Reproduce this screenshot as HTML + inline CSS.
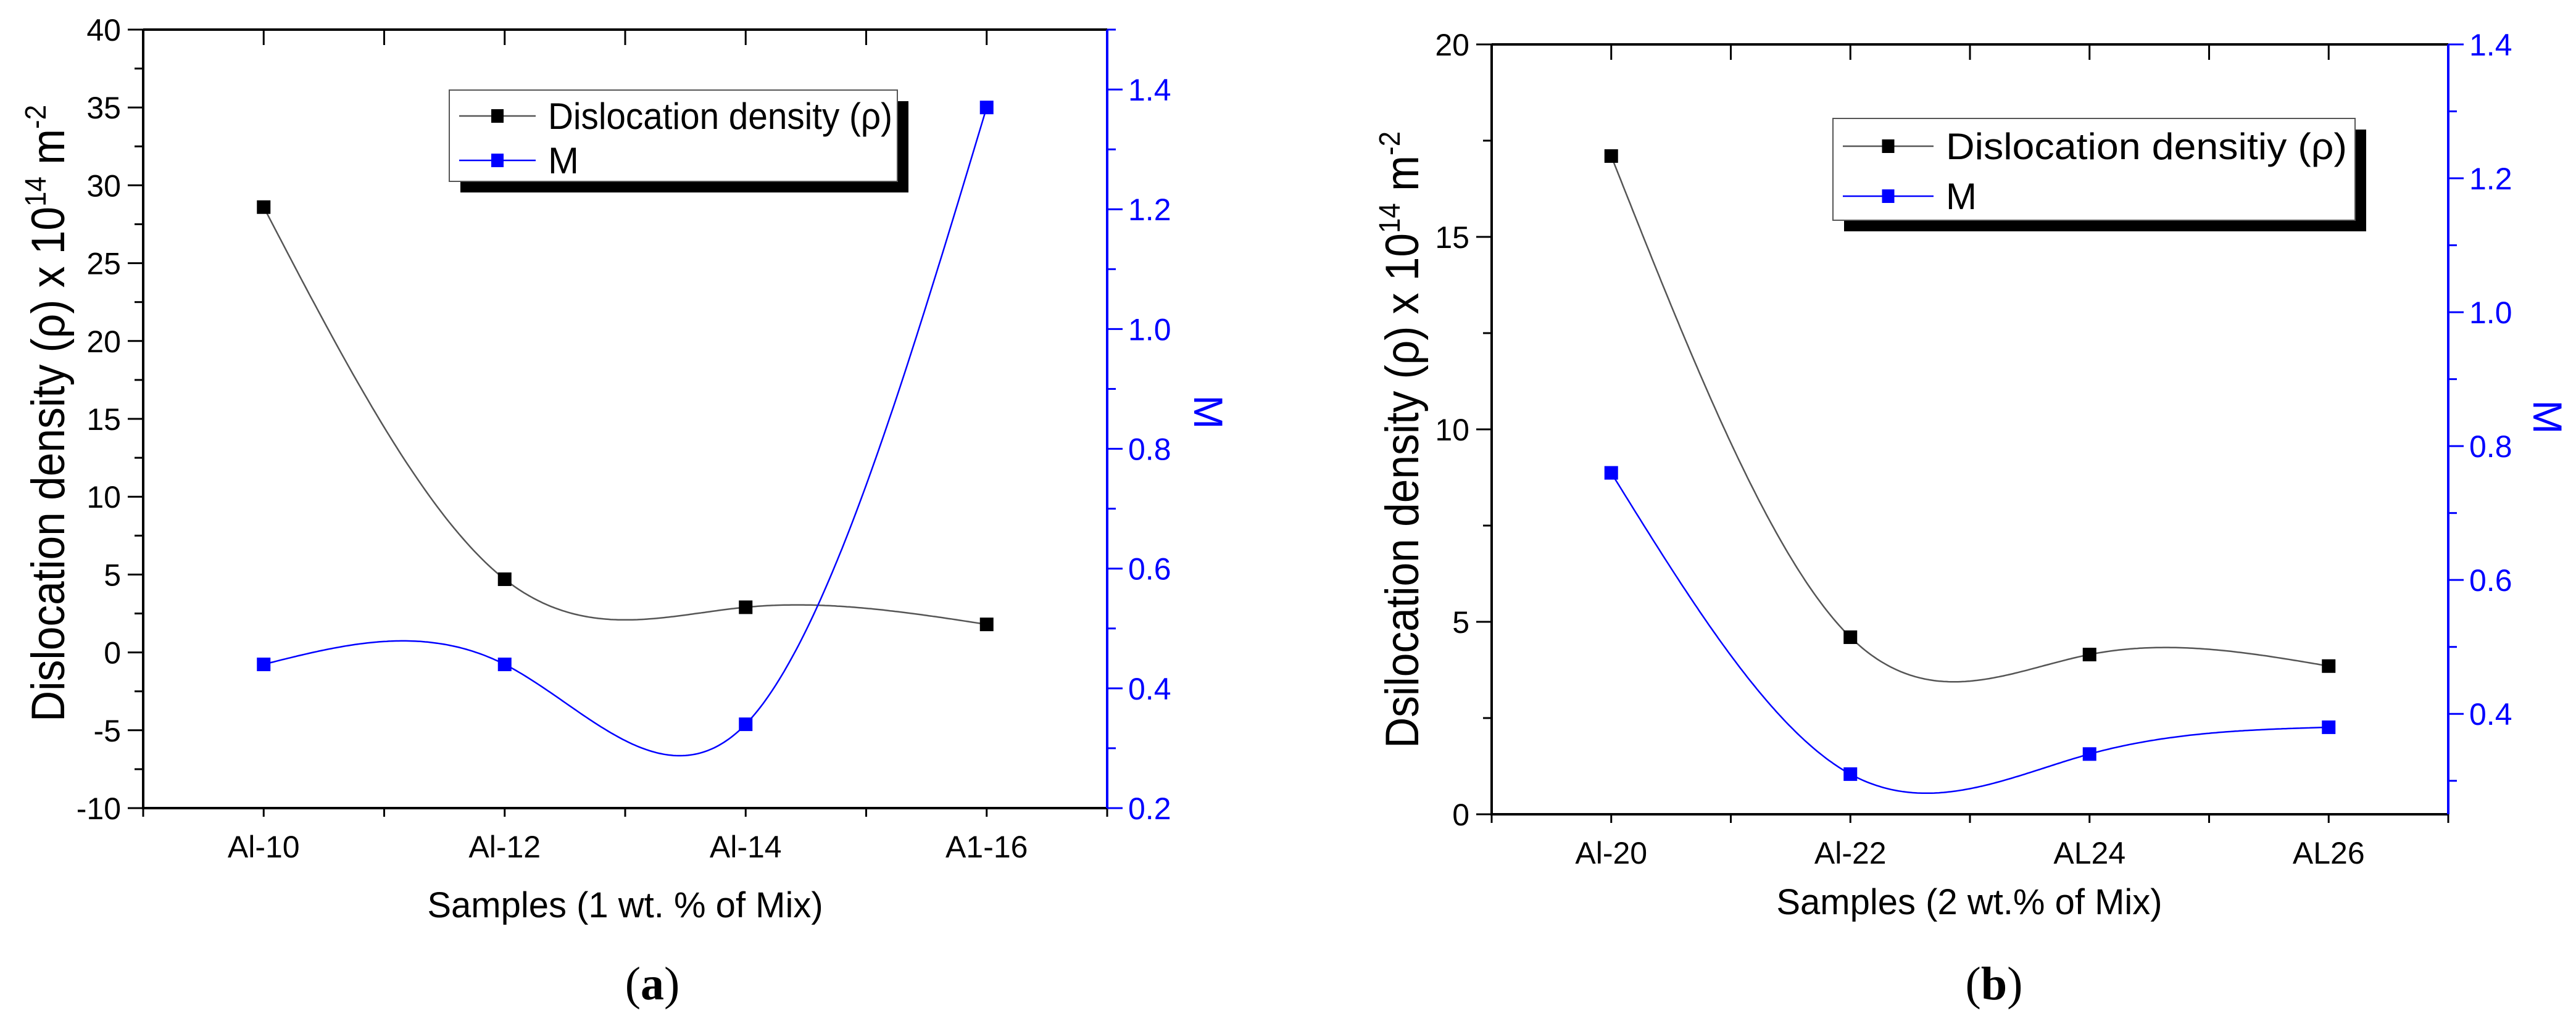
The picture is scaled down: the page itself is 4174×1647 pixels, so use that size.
<!DOCTYPE html>
<html><head><meta charset="utf-8">
<style>
html,body{margin:0;padding:0;background:#fff;}
svg{display:block;font-family:"Liberation Sans",sans-serif;}
</style></head>
<body>
<svg id="chart" width="4174" height="1647" viewBox="0 0 4174 1647" xmlns="http://www.w3.org/2000/svg"></svg>
<script>
// ---- Panel (a) data ----
const catsA = ["Al-10", "Al-12", "Al-14", "A1-16"];
const rhoA = [28.6, 4.7, 2.9, 1.8];
const mA = [0.44, 0.44, 0.34, 1.37];
const leftTicksA = [-10, -5, 0, 5, 10, 15, 20, 25, 30, 35, 40];
const rightTicksA = [0.2, 0.4, 0.6, 0.8, 1.0, 1.2, 1.4];
// ---- Panel (b) data ----
const catsB = ["Al-20", "Al-22", "AL24", "AL26"];
const rhoB = [17.1, 4.6, 4.15, 3.85];
const mB = [0.76, 0.31, 0.34, 0.38];
const leftTicksB = [0, 5, 10, 15, 20];
const rightTicksB = [0.4, 0.6, 0.8, 1.0, 1.2, 1.4];

const NS = "http://www.w3.org/2000/svg";
const svg = document.getElementById("chart");
function mk(tag, attrs, parent) {
  const e = document.createElementNS(NS, tag);
  for (const k in attrs) e.setAttribute(k, attrs[k]);
  (parent || svg).appendChild(e);
  return e;
}
function spline(xs, ys) {
  const n = xs.length, h = [], a = [], l = [1], mu = [0], z = [0], c = new Array(n).fill(0), b = [], d = [];
  for (let i = 0; i < n - 1; i++) h.push(xs[i+1] - xs[i]);
  for (let i = 1; i < n - 1; i++) a[i] = 3/h[i]*(ys[i+1]-ys[i]) - 3/h[i-1]*(ys[i]-ys[i-1]);
  for (let i = 1; i < n - 1; i++) { l[i] = 2*(xs[i+1]-xs[i-1]) - h[i-1]*mu[i-1]; mu[i] = h[i]/l[i]; z[i] = (a[i]-h[i-1]*z[i-1])/l[i]; }
  for (let j = n - 2; j >= 0; j--) { c[j] = (j < n-1 && j > 0 ? z[j] : 0) - mu[j]*c[j+1]; if (j === 0) c[0] = 0;
    b[j] = (ys[j+1]-ys[j])/h[j] - h[j]*(c[j+1]+2*c[j])/3; d[j] = (c[j+1]-c[j])/(3*h[j]); }
  return function(x) { let i = Math.min(Math.max(0, Math.floor(x - xs[0])), n - 2); const dx = x - xs[i];
    return ys[i] + b[i]*dx + c[i]*dx*dx + d[i]*dx*dx*dx; };
}

function panel(p) {
  const g = mk("g", {});
  
  
  const X = i => p.x0 + (i + 0.5) * (p.x1 - p.x0) / p.cats.length;
  const YL = v => p.y1 - (v - p.lmin) / (p.lmax - p.lmin) * (p.y1 - p.y0);
  const YR = v => p.y1 - (v - p.rmin) / (p.rmax - p.rmin) * (p.y1 - p.y0);
  const fr = mk("path", {d:`M${p.x0},${p.y0}H${p.x1}M${p.x0},${p.y0}V${p.y1}H${p.x1}`, stroke:"#000", "stroke-width":4, fill:"none"}, g);
  
  
  const ra = mk("line", {x1:p.x1, y1:p.y0, x2:p.x1, y2:p.y1, stroke:"#00f", "stroke-width":4}, g);
  
  
  const n = p.cats.length;
  for (let k = 0; k <= 2*n; k++) {
    const x = p.x0 + k * (p.x1 - p.x0) / (2*n);
    mk("line", {x1:x, y1:p.y1, x2:x, y2:p.y1 + 14, stroke:"#000", "stroke-width":3}, g);
    if (k > 0 && k < 2*n) mk("line", {x1:x, y1:p.y0, x2:x, y2:p.y0 + 25, stroke:"#000", "stroke-width":3}, g);
  }
  p.cats.forEach((c, i) => {
    const t = mk("text", {x:X(i), y:p.y1 + 80, "font-size":50, "text-anchor":"middle"}, g);
    t.textContent = c;
    
    
  });
  const lstep = p.lticks[1] - p.lticks[0];
  for (let v = p.lmin; v <= p.lmax + 1e-9; v += lstep / 2) {
    const major = Math.abs(((v - p.lticks[0]) / lstep) - Math.round((v - p.lticks[0]) / lstep)) < 1e-6;
    mk("line", {x1:p.x0, y1:YL(v), x2:p.x0 - (major ? 25 : 14), y2:YL(v), stroke:"#000", "stroke-width":3}, g);
  }
  p.lticks.forEach(v => {
    const t = mk("text", {x:p.x0 - 36, y:YL(v) + 18, "font-size":50, "text-anchor":"end"}, g);
    t.textContent = v;
    
    
  });
  for (let v = Math.ceil(p.rmin * 10 - 1e-9) / 10; v <= p.rmax + 1e-9; v += 0.1) {
    const major = Math.round(v * 10) % 2 === 0;
    mk("line", {x1:p.x1, y1:YR(v), x2:p.x1 + (major ? 25 : 14), y2:YR(v), stroke:"#00f", "stroke-width":3}, g);
  }
  p.rticks.forEach(v => {
    const t = mk("text", {x:p.x1 + 34, y:YR(v) + 18, "font-size":50, fill:"#00f"}, g);
    t.textContent = v.toFixed(1);
    
    
  });
  const idx = p.cats.map((c, i) => i);
  [[p.rho, YL, "#555", "rho"], [p.m, YR, "#00f", "m"]].forEach(([vals, Y, col, nm]) => {
    const f = spline(idx, vals);
    let d = "";
    for (let s = 0; s <= 300; s++) { const t = s / 300 * (n - 1); d += (s ? "L" : "M") + X(t).toFixed(1) + "," + Y(f(t)).toFixed(1); }
    const path = mk("path", {d, fill:"none", stroke:col, "stroke-width":2.5}, g);
    
    
    vals.forEach((v, i) => {
      const r = mk("rect", {x:X(i) - 11, y:Y(v) - 11, width:22, height:22, fill:col === "#555" ? "#000" : "#00f"}, g);
      
      
    });
  });
  const L = p.leg;
  const sh = mk("rect", {x:L.x + 18, y:L.y + 18, width:L.w, height:L.h, fill:"#000"}, g);
  
  
  const bx = mk("rect", {x:L.x, y:L.y, width:L.w, height:L.h, fill:"#fff", stroke:"#555", "stroke-width":2}, g);
  
  
  [[L.r1, "#555", "#000", p.label1, L.tl], [L.r2, "#00f", "#00f", "M", null]].forEach(([yy, lc, mc, txt, tl]) => {
    const le = mk("g", {}, g);
    
    
    mk("line", {x1:L.x + 16, y1:yy, x2:L.x + 16 + L.lw, y2:yy, stroke:lc, "stroke-width":2.5}, le);
    mk("rect", {x:L.x + 16 + L.lw/2 - 10, y:yy - 11, width:20, height:22, fill:mc}, le);
    const t = mk("text", {x:L.x + L.lw + 36, y:yy + 21, "font-size":60}, le);
    if (tl) { t.setAttribute("textLength", tl); t.setAttribute("lengthAdjust", "spacingAndGlyphs"); }
    t.textContent = txt;
  });
  const yt = mk("text", {x:0, y:0, "font-size":76, "text-anchor":"middle", transform:`translate(${p.ytx},${p.yty}) rotate(-90)`, textLength:p.ytl, lengthAdjust:"spacingAndGlyphs"}, g);
  
  
  yt.innerHTML = p.ytitle + ' (ρ) x 10<tspan dy="-30" font-size="48">14</tspan><tspan dy="30"> m</tspan><tspan dy="-30" font-size="48">-2</tspan>';
  const xt = mk("text", {x:p.xtx, y:p.xty, "font-size":58, "text-anchor":"middle"}, g);
  
  
  xt.textContent = p.xtitle;
  const rt = mk("text", {x:0, y:0, "font-size":66, fill:"#00f", "text-anchor":"middle", transform:`translate(${p.rtx},${p.rty}) rotate(90)`}, g);
  
  
  rt.textContent = "M";
  const cap = mk("text", {x:p.capx, y:1620, "font-size":76, "text-anchor":"middle", "font-family":"Liberation Serif, serif"}, g);
  
  
  cap.innerHTML = '(<tspan font-weight="bold">' + p.cap + '</tspan>)';
}

panel({name:"panel-a", cats:catsA, rho:rhoA, m:mA, lticks:leftTicksA, rticks:rightTicksA,
  x0:232, x1:1794, y0:48, y1:1310, lmin:-10, lmax:40, rmin:0.2, rmax:1.5,
  leg:{x:728, y:146, w:726, h:148, r1:188, r2:260, lw:124, tl:558},
  label1:"Dislocation density (ρ)",
  ytitle:"Dislocation density", ytx:104, yty:670, ytl:1000,
  xtitle:"Samples (1 wt. % of Mix)", xtx:1013, xty:1487,
  rtx:1935, rty:668, capx:1057, cap:"a"});
panel({name:"panel-b", cats:catsB, rho:rhoB, m:mB, lticks:leftTicksB, rticks:rightTicksB,
  x0:2417, x1:3967, y0:72, y1:1320, lmin:0, lmax:20, rmin:0.25, rmax:1.4,
  leg:{x:2970, y:192, w:846, h:165, r1:237, r2:318, lw:147, tl:650},
  label1:"Dislocation densitiy (ρ)",
  ytitle:"Dsilocation density", ytx:2298, yty:713, ytl:1000,
  xtitle:"Samples (2 wt.% of Mix)", xtx:3191, xty:1482,
  rtx:4105, rty:676, capx:3231, cap:"b"});
</script>
</body></html>
